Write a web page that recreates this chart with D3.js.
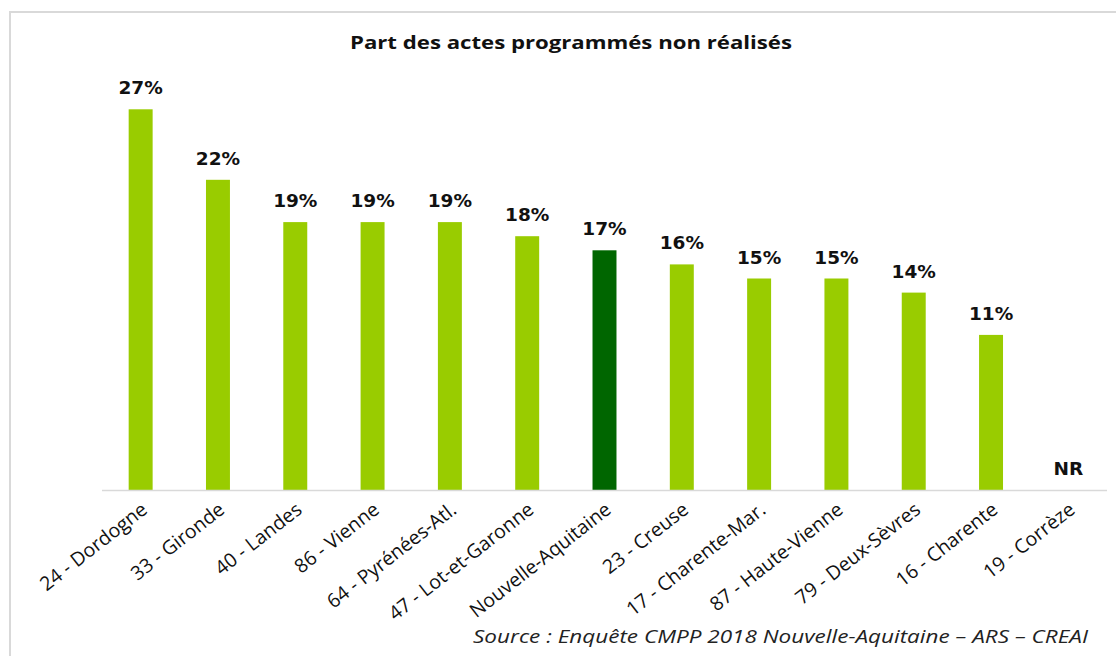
<!DOCTYPE html>
<html>
<head>
<meta charset="utf-8">
<script src="https://cdn.jsdelivr.net/npm/d3@7"></script>
<style>
  body { margin: 0; background: #fff; }
</style>
</head>
<body>
<script>
// Chart data
let categories = ["24 - Dordogne", "33 - Gironde", "40 - Landes", "86 - Vienne",
  "64 - Pyrénées-Atl.", "47 - Lot-et-Garonne", "Nouvelle-Aquitaine", "23 - Creuse",
  "17 - Charente-Mar.", "87 - Haute-Vienne", "79 - Deux-Sèvres", "16 - Charente", "19 - Corrèze"];
let values = [27, 22, 19, 19, 19, 18, 17, 16, 15, 15, 14, 11, null];
let highlight = "Nouvelle-Aquitaine";
let title = "Part des actes programmés non réalisés";
let source = "Source : Enquête CMPP 2018 Nouvelle-Aquitaine – ARS – CREAI";

let W = 1116, H = 656;
let margin = { top: 67, left: 102, right: 9, bottom: 166 };
let baseY = H - margin.bottom;

let svg = d3.select("body")
  .append("svg")
    .attr("width", W)
    .attr("height", H);

// outer frame (runs off the right and bottom edges)
svg.append("rect")
  .attr("x", 10).attr("y", 12)
  .attr("width", W + 20).attr("height", H + 20)
  .attr("fill", "none")
  .attr("stroke", "#d9d9d9")
  .attr("stroke-width", 2);

let x = d3.scaleBand()
  .domain(categories)
  .range([margin.left, W - margin.right])
  .paddingInner(0.69)
  .paddingOuter(0.345);

let y = d3.scaleLinear()
  .domain([0, 30])
  .range([baseY, margin.top]);

let data = categories.map((c, i) => ({ cat: c, val: values[i] }));

// bars
svg.selectAll(".bar")
  .data(data.filter(d => d.val != null))
  .enter().append("rect")
    .attr("class", "bar")
    .attr("x", d => x(d.cat))
    .attr("width", x.bandwidth())
    .attr("y", d => y(d.val))
    .attr("height", d => baseY - y(d.val))
    .attr("fill", d => d.cat === highlight ? "#006600" : "#99cc00");

// baseline
svg.append("line")
  .attr("x1", margin.left).attr("x2", W - margin.right)
  .attr("y1", baseY + 0.5).attr("y2", baseY + 0.5)
  .attr("stroke", "#d9d9d9")
  .attr("stroke-width", 1.5);

// value labels
svg.selectAll(".val")
  .data(data)
  .enter().append("text")
    .attr("class", "val")
    .attr("x", d => x(d.cat) + x.bandwidth() / 2)
    .attr("y", d => (d.val == null ? baseY - 15 : y(d.val) - 15))
    .attr("text-anchor", "middle")
    .style("font-family", "'DejaVu Sans', Verdana, sans-serif")
    .style("font-weight", "bold")
    .style("font-size", "18.5px")
    .attr("fill", "#111")
    .text(d => d.val == null ? "NR" : d.val + "%");

// category labels, rotated
svg.selectAll(".cat")
  .data(categories)
  .enter().append("text")
    .attr("class", "cat")
    .attr("transform", d => "translate(" + (x(d) + x.bandwidth() / 2 + 8) + "," + (baseY + 22) + ") rotate(-38)")
    .attr("text-anchor", "end")
    .style("font-family", "'Open Sans', sans-serif")
    .style("font-size", "19.5px")
    .attr("fill", "#111")
    .text(d => d);

// title
svg.append("text")
  .attr("x", 571).attr("y", 49)
  .attr("text-anchor", "middle")
  .attr("textLength", 442)
  .attr("lengthAdjust", "spacingAndGlyphs")
  .style("font-family", "'Open Sans', sans-serif")
  .style("font-weight", "bold")
  .style("font-size", "18px")
  .attr("fill", "#111")
  .text(title);

// source
svg.append("text")
  .attr("x", 473).attr("y", 643)
  .attr("textLength", 615)
  .attr("lengthAdjust", "spacingAndGlyphs")
  .style("font-family", "'Open Sans', sans-serif")
  .style("font-style", "italic")
  .style("font-size", "19px")
  .attr("fill", "#222")
  .text(source);
</script>
</body>
</html>
